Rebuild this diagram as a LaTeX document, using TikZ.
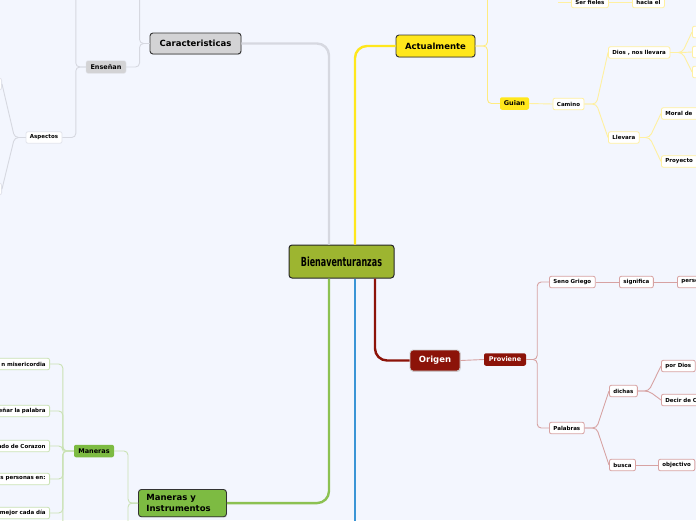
\documentclass[tikz,border=0pt]{standalone}
\usepackage{fontspec}
\setmainfont{DejaVu Sans}
\newfontfamily\hubfont[FakeStretch=0.64]{DejaVu Sans}
\usetikzlibrary{positioning, shadows}
\definecolor{canvas}{HTML}{F3F6FE}
\definecolor{hubolive}{HTML}{9DB530}
\definecolor{greyline}{HTML}{D6D8E0}
\definecolor{greyfill}{HTML}{D3D3D5}
\definecolor{greyedge}{HTML}{E2E4EC}
\definecolor{sunyellow}{HTML}{FFE71C}
\definecolor{midyellow}{HTML}{FFEC80}
\definecolor{paleyellow}{HTML}{FFF0A0}
\definecolor{leafgreen}{HTML}{7DBB42}
\definecolor{mossline}{HTML}{8CC152}
\definecolor{palegreen}{HTML}{CAE2B4}
\definecolor{oxred}{HTML}{8C1309}
\definecolor{palered}{HTML}{D7A2A2}
\definecolor{skyblue}{HTML}{3A95D6}

\tikzset{
  hub/.style={fill=hubolive, draw=black!85, line width=1pt, rounded corners=3pt,
    minimum width=105pt, minimum height=33pt, font=\hubfont\bfseries\fontsize{12.5}{13}\selectfont},
  topic/.style={draw=black!80, line width=0.9pt, rounded corners=3pt, inner xsep=6pt,
    minimum height=21pt, font=\fontsize{8.5}{11}\selectfont\bfseries,
    drop shadow={shadow xshift=0.7pt, shadow yshift=-0.9pt, opacity=0.25}},
  subtopic/.style={rounded corners=2pt, inner xsep=3pt, inner ysep=0pt,
    minimum height=12.5pt, font=\fontsize{6.5}{7}\selectfont\bfseries},
  leaf/.style={fill=white, rounded corners=2pt, line width=0.8pt, inner xsep=4pt, inner ysep=0pt,
    minimum height=11.5pt, font=\fontsize{5.5}{6}\selectfont\bfseries},
  trunk/.style={line width=2.4pt, rounded corners=12pt},
  twig/.style={line width=0.9pt, rounded corners=4pt}
}

\begin{document}
\begin{tikzpicture}[x=1pt, y=-1pt]

% Background
\fill[canvas] (0,0) rectangle (696,520);
\useasboundingbox (0,0) rectangle (696,520);
\clip (0,0) rectangle (696,520);

%% Centre
\node[hub] (hub) at (341.5,261.5) {Bienaventuranzas};

%% Caracteristicas (grey)
\node[topic, fill=greyfill, minimum width=91pt] (carac) at (195.5,43.5) {Caracteristicas};
\node[subtopic, fill=greyfill, draw=greyedge, minimum width=40pt] (ensenan) at (106,67) {Enseñan};
\node[leaf, draw=greyedge] (aspectos) at (44,137.5) {Aspectos};
\node[leaf, draw=greyedge, minimum width=30pt, anchor=east] (aspA) at (2,84) {};
\node[leaf, draw=greyedge, minimum width=30pt, anchor=east] (aspB) at (2,189) {};

\draw[trunk, greyline] (carac.east) -| ([xshift=-12.5pt]hub.north);
\draw[twig, greyline] (carac.west) -- ++(-10,0) |- (ensenan.east);
\draw[twig, greyline] (carac.west) -- ++(-10,0) -- ++(0,-60);
\draw[twig, greyline] (ensenan.west) -- ++(-10,0) |- (aspectos.east);
\draw[twig, greyline] (ensenan.west) -- ++(-10,0) -- ++(0,-80);
\draw[twig, greyline] (aspectos.west) -- ++(-11,0) -- (aspA.east);
\draw[twig, greyline] (aspectos.west) -- ++(-11,0) -- (aspB.east);

%% Actualmente (yellow)
\node[topic, fill=sunyellow, minimum width=79pt, minimum height=22pt] (actual) at (435.5,46) {Actualmente};
\node[subtopic, fill=sunyellow, minimum width=29pt] (guian) at (514.5,103.5) {Guian};
\node[leaf, draw=paleyellow] (camino) at (568.5,104) {Camino};
\node[leaf, draw=paleyellow, anchor=west] (dios) at (608,52.5) {Dios , nos llevara};
\node[leaf, draw=paleyellow, anchor=west] (llevara) at (608,137.5) {Llevara};
\foreach \nm/\yy in {diosA/32, diosB/52, diosC/72}
  \node[leaf, draw=paleyellow, minimum width=30pt, anchor=west] (\nm) at (692,\yy) {};
\node[leaf, draw=paleyellow, anchor=west, text width=45pt, align=left] (moral) at (661,113.5) {Moral de};
\node[leaf, draw=paleyellow, anchor=west, text width=45pt, align=left] (proyecto) at (661,161.5) {Proyecto};
\coordinate (fielesin) at (558,2);
\node[leaf, draw=paleyellow, anchor=west] (fieles) at (571,2) {Ser fieles};
\node[leaf, draw=paleyellow, anchor=west] (hacia) at (632,2) {hacia el};

\draw[trunk, sunyellow] ([xshift=13.5pt]hub.north) |- (actual.west);
\draw[twig, midyellow] (actual.east) -- ++(12,0) |- (guian.west);
\draw[twig, midyellow] (actual.east) -- ++(12,0) -- ++(0,-60);
\draw[twig, paleyellow] (guian.east) -- (camino.west);
\draw[twig, paleyellow] (camino.east) -- ++(12,0) -- (dios.west);
\draw[twig, paleyellow] (camino.east) -- ++(12,0) -- (llevara.west);
\foreach \nm in {diosA, diosB, diosC}
  \draw[twig, paleyellow] (dios.east) -- ++(12,0) -- (\nm.west);
\draw[twig, paleyellow] (llevara.east) -- ++(10,0) -- (moral.west);
\draw[twig, paleyellow] (llevara.east) -- ++(10,0) -- (proyecto.west);
\draw[twig, paleyellow] (fielesin) -- (fieles.west);
\draw[twig, paleyellow] (fieles.east) -- (hacia.west);

%% Origen (red)
\node[topic, fill=oxred, draw=white!80!black, text=white, minimum width=50pt] (origen) at (435,360.5) {Origen};
\node[subtopic, fill=oxred, text=white, minimum width=42pt] (proviene) at (505,359.5) {Proviene};
\node[leaf, draw=palered, anchor=west] (seno) at (549,282) {Seno Griego};
\node[leaf, draw=palered, anchor=west] (significa) at (619,282) {significa};
\node[leaf, draw=palered, anchor=west, text width=40pt, align=left] (perso) at (677,282) {perso};
\node[leaf, draw=palered, anchor=west] (palabras) at (549,428) {Palabras};
\node[leaf, draw=palered, anchor=west] (dichas) at (609,391) {dichas};
\node[leaf, draw=palered, anchor=west] (busca) at (609,465) {busca};
\node[leaf, draw=palered, anchor=west] (pordios) at (661,366) {por Dios};
\node[leaf, draw=palered, anchor=west, text width=50pt, align=left] (decir) at (661,400) {Decir de C};
\node[leaf, draw=palered, anchor=west] (objetivo) at (658,465) {objectivo};

\draw[trunk, oxred] ([xshift=33.5pt]hub.south) |- (origen.west);
\draw[twig, palered] (origen.east) -- (proviene.west);
\draw[twig, palered] (proviene.east) -- ++(11,0) |- (seno.west);
\draw[twig, palered] (proviene.east) -- ++(11,0) |- (palabras.west);
\draw[twig, palered] (seno.east) -- (significa.west);
\draw[twig, palered] (significa.east) -- (perso.west);
\draw[twig, palered] (palabras.east) -- ++(12,0) -- (dichas.west);
\draw[twig, palered] (palabras.east) -- ++(12,0) -- (busca.west);
\draw[twig, palered] (dichas.east) -- ++(11,0) -- (pordios.west);
\draw[twig, palered] (dichas.east) -- ++(11,0) -- (decir.west);
\draw[twig, palered] (busca.east) -- (objetivo.west);

%% Maneras y Instrumentos (green)
\node[topic, fill=leafgreen, anchor=north west, text width=72pt, align=left,
  inner xsep=8pt, inner ysep=5pt] (myi) at (138,489) {Maneras y\\Instrumentos};
\node[subtopic, fill=leafgreen, minimum width=40pt] (maneras) at (94,451) {Maneras};
\foreach \nm/\yy/\txt in {manA/364/n misericordia, manB/411/eñar la palabra,
    manC/446/ndo de Corazon, manD/479/as personas en:, manE/513/mejor cada día}
  \node[leaf, draw=palegreen, anchor=east, text width=70pt, align=right] (\nm) at (50,\yy) {\txt};

\draw[trunk, mossline] ([xshift=-12.5pt]hub.south) |- (myi.east);
\draw[twig, palegreen] (myi.west) -- ++(-10,0) |- (maneras.east);
\draw[twig, palegreen] (myi.west) -- ++(-10,0) -- ++(0,40);
\foreach \nm in {manA, manB, manC, manD, manE}
  \draw[twig, palegreen] (maneras.west) -- ++(-11,0) |- (\nm.east);
\draw[twig, palegreen] (maneras.west) -- ++(-11,0) -- ++(0,90);

%% Blue branch
\draw[trunk, skyblue] ([xshift=13.5pt]hub.south) -- ++(0,260);

\end{tikzpicture}
\end{document}
